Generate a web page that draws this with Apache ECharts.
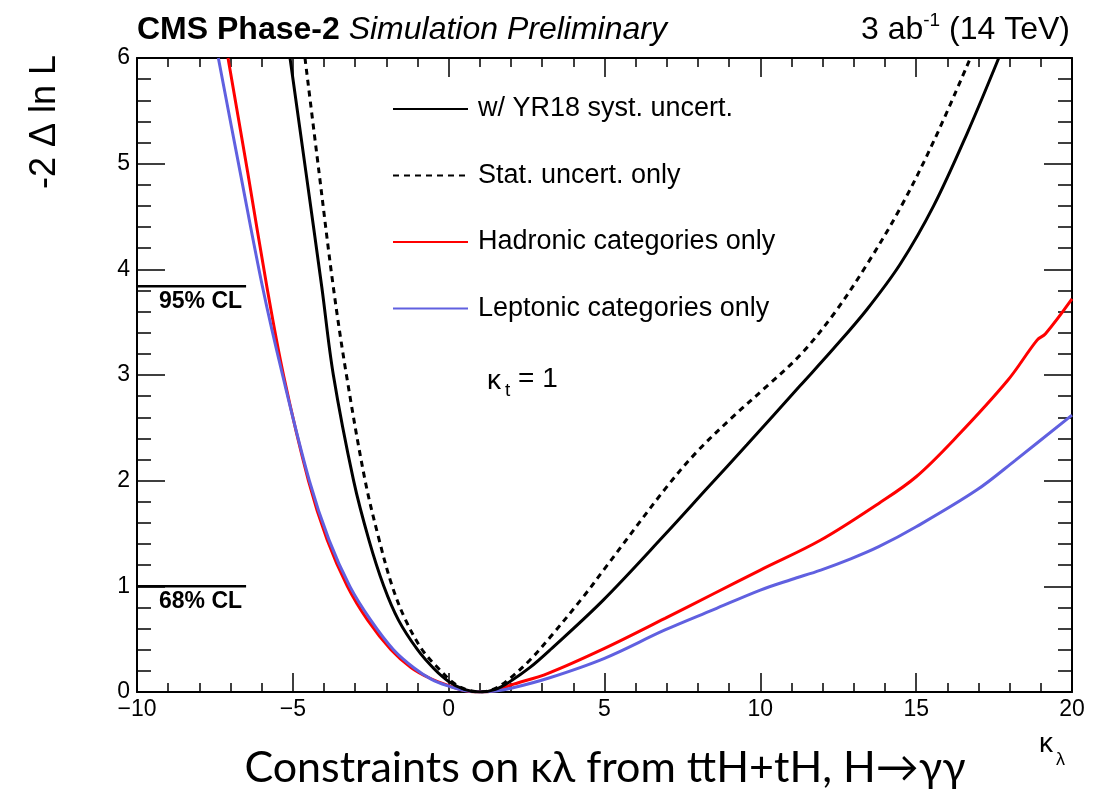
<!DOCTYPE html>
<html>
<head>
<meta charset="utf-8">
<title>kappa_lambda constraints</title>
<script src="https://cdn.jsdelivr.net/npm/echarts@6/dist/echarts.min.js"></script>
<style>
  html, body { margin: 0; padding: 0; background: #ffffff; }
  #chart { width: 1115px; height: 789px; }
</style>
</head>
<body>
<div id="chart"></div>
<script>
// Likelihood scans: [kappa_lambda, -2 Delta ln L]
const systCurve = [
  [-5.09, 6.0], [-4.58, 4.92], [-4.07, 3.83], [-3.7, 3.0], [-3.05, 2.0],
  [-2.56, 1.44], [-2.08, 1.0], [-1.61, 0.68], [-1.0, 0.40], [-0.47, 0.22],
  [0.0, 0.1], [0.5, 0.025], [1.0, 0.0], [1.5, 0.025], [1.97, 0.1],
  [2.6, 0.23], [3.26, 0.40], [4.96, 0.87], [6.94, 1.49], [8.3, 1.93],
  [9.57, 2.34], [11.28, 2.9], [12.35, 3.25], [13.42, 3.62], [14.49, 4.05],
  [15.56, 4.6], [16.64, 5.29], [17.65, 6.0]
];
const statCurve = [
  [-4.61, 6.0], [-4.16, 4.92], [-3.70, 3.83], [-3.28, 3.0], [-2.68, 2.0],
  [-2.23, 1.44], [-1.81, 1.0], [-1.38, 0.68], [-0.85, 0.40], [-0.34, 0.227],
  [0.18, 0.08], [0.6, 0.02], [1.0, 0.0], [1.5, 0.035], [1.97, 0.13],
  [2.6, 0.30], [3.26, 0.52], [4.33, 0.905], [5.0, 1.165], [6.94, 1.92],
  [7.97, 2.275], [9.14, 2.61], [10.21, 2.894], [11.28, 3.19], [12.35, 3.575],
  [13.42, 4.046], [14.49, 4.58], [15.56, 5.21], [16.74, 6.0]
];
const hadronicCurve = [
  [-7.08, 6.0], [-6.45, 4.92], [-5.83, 3.83], [-5.3, 3.0], [-4.5, 2.0],
  [-3.9, 1.44], [-3.25, 1.0], [-2.6, 0.68], [-1.85, 0.40], [-1.2, 0.23],
  [-0.6, 0.13], [0.0, 0.06], [0.5, 0.015], [1.0, 0.0], [1.5, 0.015],
  [2.0, 0.066], [3.19, 0.177], [5.0, 0.413], [6.94, 0.697], [8.5, 0.93],
  [10.0, 1.154], [11.94, 1.438], [13.8, 1.785], [15.0, 2.037], [16.3, 2.415],
  [17.94, 2.95], [18.88, 3.33], [19.15, 3.39], [20.0, 3.72]
];
const leptonicCurve = [
  [-7.39, 6.0], [-6.69, 4.92], [-5.97, 3.83], [-5.33, 3.0], [-4.47, 2.0],
  [-3.84, 1.44], [-3.17, 1.0], [-2.5, 0.68], [-1.77, 0.40], [-1.12, 0.23],
  [-0.55, 0.12], [0.0, 0.055], [0.5, 0.013], [1.0, 0.0], [1.5, 0.01],
  [2.0, 0.035], [3.19, 0.13], [5.0, 0.319], [6.94, 0.587], [8.5, 0.78],
  [10.0, 0.965], [11.0, 1.065], [11.94, 1.154], [12.9, 1.26], [13.8, 1.375],
  [15.0, 1.564], [16.94, 1.911], [18.19, 2.195], [20.0, 2.62]
];
// Confidence-level reference lines and their labels
const clLevels = [3.84, 1.0];
const clLabels = ['95% CL', '68% CL'];
const clLineEnd = -6.5;
const seriesNames = [
  'w/ YR18 syst. uncert.',
  'Stat. uncert. only',
  'Hadronic categories only',
  'Leptonic categories only'
];
const xRange = [-10, 20];
const yRange = [0, 6];

const chart = echarts.init(document.getElementById('chart'), null, { renderer: 'canvas' });

const FONT = "'Liberation Sans', Arial, Helvetica, sans-serif";
const minusFmt = v => (v < 0 ? '\u2212' + Math.abs(v) : String(v));

function makeX(pos, labels) {
  return {
    type: 'value', position: pos, min: xRange[0], max: xRange[1], interval: 5,
    axisLine: { show: true, onZero: false, lineStyle: { color: '#000', width: 2 } },
    axisTick: { show: true, inside: true, length: 19, lineStyle: { color: '#000', width: 1.5 } },
    minorTick: { show: true, splitNumber: 5, length: 9, lineStyle: { color: '#000', width: 1.5 } },
    axisLabel: { show: labels, color: '#000', fontSize: 23, fontFamily: FONT, margin: 6, formatter: minusFmt },
    splitLine: { show: false }, minorSplitLine: { show: false }
  };
}
function makeY(pos, labels) {
  return {
    type: 'value', position: pos, min: yRange[0], max: yRange[1], interval: 1,
    axisLine: { show: true, onZero: false, lineStyle: { color: '#000', width: 2 } },
    axisTick: { show: true, inside: true, length: 28, lineStyle: { color: '#000', width: 1.5 } },
    minorTick: { show: true, splitNumber: 5, length: 14, lineStyle: { color: '#000', width: 1.5 } },
    axisLabel: { show: labels, color: '#000', fontSize: 23, fontFamily: FONT, margin: 7 },
    splitLine: { show: false }, minorSplitLine: { show: false }
  };
}

function curve(name, data, color, type, z) {
  return {
    name, type: 'line', data, smooth: 0.35, showSymbol: false, symbol: 'none',
    clip: true, z, silent: true,
    lineStyle: { color, width: 3, type },
    itemStyle: { color }
  };
}

const clSeries = clLevels.map(v => ({
  type: 'line', silent: true, showSymbol: false, symbol: 'none', z: 5,
  data: [[xRange[0], v], [clLineEnd, v]],
  lineStyle: { color: '#000', width: 2.5 }
}));

const option = {
  animation: false,
  backgroundColor: '#ffffff',
  grid: { left: 137, right: 43, top: 58, bottom: 97, containLabel: false },
  xAxis: [makeX('bottom', true), makeX('top', false)],
  yAxis: [makeY('left', true), makeY('right', false)],
  legend: {
    data: seriesNames, orient: 'vertical', left: 387, top: 90,
    itemWidth: 75, itemHeight: 14, itemGap: 38.5,
    itemStyle: { opacity: 0 },
    textStyle: { color: '#000', fontSize: 27, fontFamily: FONT, lineHeight: 28, padding: [0, 0, 0, 5] },
    selectedMode: false
  },
  series: [
    curve(seriesNames[2], hadronicCurve, '#ff0000', 'solid', 2),
    curve(seriesNames[3], leptonicCurve, '#6060e0', 'solid', 3),
    curve(seriesNames[1], statCurve, '#000000', [6, 5], 4),
    curve(seriesNames[0], systCurve, '#000000', 'solid', 4),
    ...clSeries
  ],
  graphic: [
    { type: 'text', x: 137, y: 30, style: {
        text: '{b|CMS Phase-2 }{i|Simulation Preliminary}', textVerticalAlign: 'middle',
        rich: {
          b: { fontSize: 32, fontWeight: 'bold', fontFamily: FONT, fill: '#000' },
          i: { fontSize: 32, fontStyle: 'italic', fontFamily: FONT, fill: '#000' }
        } } },
    { type: 'text', x: 1070, y: 30, style: {
        text: '{n|3 ab}{s|-1}{n| (14 TeV)}', textAlign: 'right', textVerticalAlign: 'middle',
        rich: {
          n: { fontSize: 32, fontFamily: FONT, fill: '#000' },
          s: { fontSize: 19, fontFamily: FONT, fill: '#000', padding: [0, 0, 18, 0] }
        } } },
    { type: 'text', x: 45, y: 122, rotation: Math.PI / 2, style: {
        text: '-2 \u0394 ln L', font: '36px ' + FONT, fill: '#000',
        textAlign: 'center', textVerticalAlign: 'middle' } },
    { type: 'text', x: 159, y: 302, style: {
        text: clLabels[0], font: 'bold 23px ' + FONT, fill: '#000', textVerticalAlign: 'middle' } },
    { type: 'text', x: 159, y: 602, style: {
        text: clLabels[1], font: 'bold 23px ' + FONT, fill: '#000', textVerticalAlign: 'middle' } },
    { type: 'text', x: 487, y: 381, style: {
        text: '\u03ba', font: '28px ' + FONT, fill: '#000', textVerticalAlign: 'middle' } },
    { type: 'text', x: 505, y: 391, style: {
        text: 't', font: '19px ' + FONT, fill: '#000', textVerticalAlign: 'middle' } },
    { type: 'text', x: 518, y: 379, style: {
        text: '= 1', font: '28px ' + FONT, fill: '#000', textVerticalAlign: 'middle' } },
    { type: 'text', x: 1039, y: 744, style: {
        text: '\u03ba', font: '28px ' + FONT, fill: '#000', textVerticalAlign: 'middle' } },
    { type: 'text', x: 1056, y: 760, style: {
        text: '\u03bb', font: '18px ' + FONT, fill: '#000', textVerticalAlign: 'middle' } },
    { type: 'text', x: 605, y: 768, style: {
        text: 'Constraints on \u03ba\u03bb from ttH+tH, H\u2192\u03b3\u03b3', font: '43px Lato, ' + FONT,
        fill: '#000', textAlign: 'center', textVerticalAlign: 'middle' } }
  ]
};

chart.setOption(option);
</script>
</body>
</html>
